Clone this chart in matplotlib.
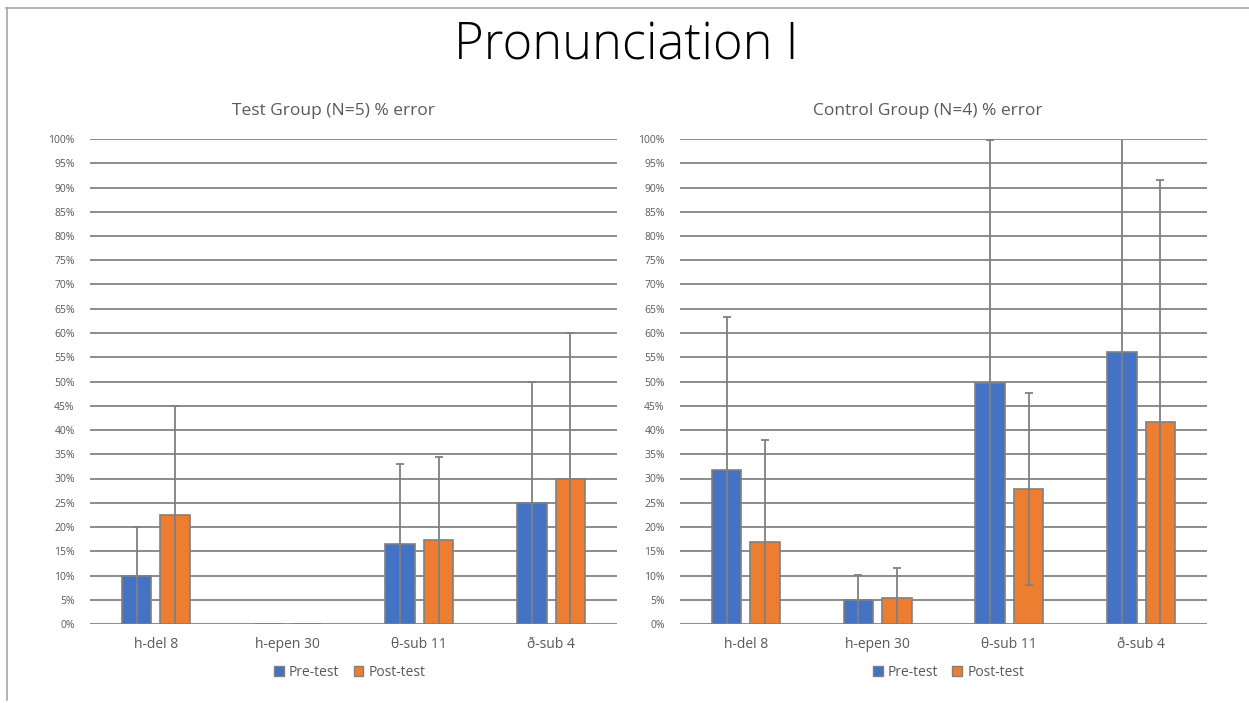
import numpy as np
import matplotlib.pyplot as plt
from matplotlib.patches import Patch
from matplotlib.lines import Line2D

plt.rcParams['font.family'] = ['Open Sans', 'DejaVu Sans']

# данные (доли ошибок)
categories = ['h-del 8', 'h-epen 30', 'θ-sub 11', 'ð-sub 4']
series = ['Pre-test', 'Post-test']

test_pre = [0.10, 0.0, 0.165, 0.25]
test_post = [0.225, 0.0, 0.173, 0.30]
test_pre_err = [0.10, 0.0, 0.165, 0.25]
test_post_err = [0.225, 0.0, 0.172, 0.30]

ctrl_pre = [0.317, 0.05, 0.497, 0.56]
ctrl_post = [0.17, 0.053, 0.278, 0.416]
ctrl_pre_err = [0.316, 0.051, 0.50, 0.56]
ctrl_post_err = [0.209, 0.063, 0.198, 0.499]

titles = ['Test Group (N=5) % error', 'Control Group (N=4) % error']

BLUE = '#4472C4'
ORANGE = '#ED7D31'
GRAY = '#808080'
TXT = '#595959'

W, H = 1249, 703
fig = plt.figure(figsize=(W / 100, H / 100), dpi=100)

# рамка слайда
fig.add_artist(Line2D([6 / W, 1], [1 - 8 / H, 1 - 8 / H], color='#a6a6a6', lw=1.2))
fig.add_artist(Line2D([7 / W, 7 / W], [1 - 8 / H, 1 - 700 / H], color='#a6a6a6', lw=1.2))

fig.text(626 / W, 1 - 46 / H, 'Pronunciation I', ha='center', va='center',
         fontsize=36.5, fontweight='light', color='black')


def err_bars(ax, xs, vals, errs):
    # усы ±err, засечки только там, где они видны внутри 0..100%
    for xi, v, e in zip(xs, vals, errs):
        if e <= 0:
            continue
        lo, hi = max(v - e, 0), min(v + e, 1)
        ax.vlines(xi, lo, hi, color=GRAY, linewidth=1.3, zorder=3)
        if v + e <= 1:
            ax.plot(xi, v + e, marker='_', ms=6, mew=1.3, color=GRAY, zorder=3)
        if v - e > 0.005:
            ax.plot(xi, v - e, marker='_', ms=6, mew=1.3, color=GRAY, zorder=3)


def draw_panel(rect, pre, post, pre_err, post_err, title, title_x, leg_x):
    ax = fig.add_axes(rect)
    x = np.arange(len(categories))
    bw = 0.225
    off = 0.146
    ax.bar(x - off, pre, bw, color=BLUE, edgecolor=GRAY, linewidth=1.2, zorder=2)
    ax.bar(x + off, post, bw, color=ORANGE, edgecolor=GRAY, linewidth=1.2, zorder=2)
    err_bars(ax, x - off, pre, pre_err)
    err_bars(ax, x + off, post, post_err)

    ax.set_xlim(-0.5, len(categories) - 0.5)
    ax.set_ylim(0, 1)
    yt = np.arange(0, 1.01, 0.05)
    ax.set_yticks(yt)
    ax.set_yticklabels([f'{int(round(v * 100))}%' for v in yt])
    ax.set_xticks(x)
    ax.set_xticklabels(categories)
    ax.yaxis.grid(True, color='#8c8c8c', linewidth=1.4, zorder=0)
    ax.set_axisbelow(True)
    for s in ax.spines.values():
        s.set_visible(False)
    ax.tick_params(axis='y', length=0, pad=11, labelsize=7.5, labelcolor=TXT)
    ax.tick_params(axis='x', length=0, pad=9, labelsize=10, labelcolor=TXT)
    ax.set_title(title, fontsize=12.5, color=TXT, pad=17, x=title_x)

    handles = [Patch(facecolor=BLUE, edgecolor=GRAY, label=series[0]),
               Patch(facecolor=ORANGE, edgecolor=GRAY, label=series[1])]
    ax.legend(handles=handles, loc='center', bbox_to_anchor=(leg_x, -0.099),
              ncol=2, frameon=False, fontsize=10, handlelength=0.7,
              handleheight=0.7, handletextpad=0.4, columnspacing=1.0,
              labelcolor=TXT)
    return ax


draw_panel([90 / W, 1 - 624 / H, 527 / W, 485 / H],
           test_pre, test_post, test_pre_err, test_post_err, titles[0], 0.461, 0.493)
draw_panel([680 / W, 1 - 624 / H, 527 / W, 485 / H],
           ctrl_pre, ctrl_post, ctrl_pre_err, ctrl_post_err, titles[1], 0.47, 0.51)

fig.savefig('out.png', dpi=100)
